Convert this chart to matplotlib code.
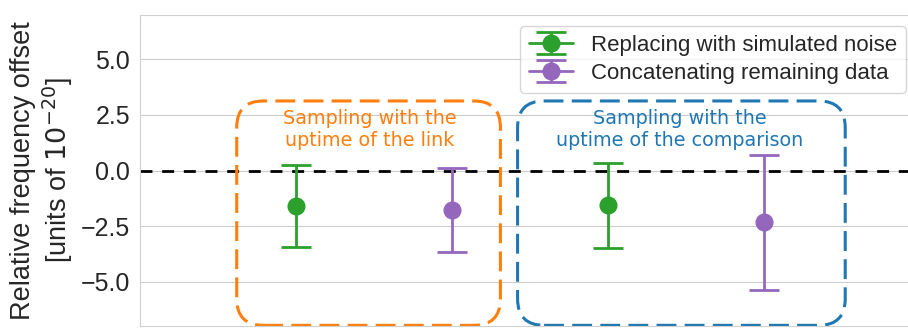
import matplotlib.pyplot as plt
import seaborn as sns
from matplotlib.patches import FancyBboxPatch

sns.set_style('whitegrid')
plt.rcParams['font.family'] = ['Liberation Sans', 'DejaVu Sans']

# data
x_noise = [0, 2]
y_noise = [-1.6, -1.57]
err_noise = [1.84, 1.93]

x_concat = [1, 3]
y_concat = [-1.77, -2.33]
err_concat = [1.9, 3.05]

labels = ['Replacing with simulated noise', 'Concatenating remaining data']
box_texts = ['Sampling with the\nuptime of the link', 'Sampling with the\nuptime of the comparison']

fig = plt.figure(figsize=(9.08, 3.29), dpi=100)
ax = fig.add_axes([140 / 908, 3 / 329, 777 / 908, 311 / 329])

# one errorbar per point, label only on the first
for xs, ys, es, c, lab in [(x_noise, y_noise, err_noise, '#2ca02c', labels[0]),
                           (x_concat, y_concat, err_concat, '#9467bd', labels[1])]:
    for i in range(len(xs)):
        ax.errorbar([xs[i]], [ys[i]], yerr=[es[i]], fmt='-o', color=c, markersize=12,
                    capsize=11, capthick=2, elinewidth=2, linewidth=2,
                    label=lab if i == 0 else None)
ax.axhline(0, color='black', linestyle=(0, (4.3, 3.5)), linewidth=2, zorder=1)

ax.set_xlim(-1, 3.98)
ax.set_ylim(-7, 7)
ax.set_xticks([])
ax.set_yticks([-5, -2.5, 0, 2.5, 5])
ax.tick_params(axis='y', labelsize=18)
ax.set_ylabel('Relative frequency offset\n[units of $10^{-20}$]', fontsize=19.5)
for s in ax.spines.values():
    s.set_color('#d0d0d0')

# dashed rounded boxes around the two groups
aspect = (777 / 4.98) / (311 / 14)
boxes = [(-0.38, 1.31, '#ff7f0e', 0.47), (1.42, 3.52, '#1f77b4', 2.46)]
for (x0, x1, c, xt), t in zip(boxes, box_texts):
    b = FancyBboxPatch((x0, -6.97), x1 - x0, 3.13 + 6.97,
                       boxstyle='round,pad=0,rounding_size=0.17', mutation_aspect=aspect,
                       fill=False, edgecolor=c, linestyle=(0, (6.5, 2.7)), linewidth=2.2)
    ax.add_patch(b)
    ax.text(xt, 1.85, t, color=c, ha='center', va='center', fontsize=13.8,
            family='DejaVu Sans', linespacing=1.2)

ax.legend(loc='upper right', fontsize=16, frameon=True, borderaxespad=0.5,
          labelspacing=0.3)

fig.savefig('out.png', dpi=100)
